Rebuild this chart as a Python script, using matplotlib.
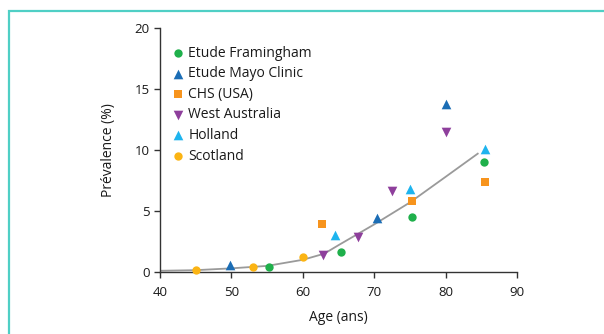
import matplotlib
matplotlib.use("Agg")
import matplotlib.pyplot as plt
from matplotlib.patches import Rectangle

plt.rcParams['font.family'] = ['Open Sans', 'DejaVu Sans']

series_names = ["Etude Framingham", "Etude Mayo Clinic", "CHS (USA)",
                "West Australia", "Holland", "Scotland"]
fram_x = [55.2, 65.4, 75.3, 85.4]
fram_y = [0.4, 1.6, 4.5, 9.0]
mayo_x = [49.8, 70.4, 80.0]
mayo_y = [0.55, 4.4, 13.8]
chs_x = [62.7, 75.3, 85.5]
chs_y = [3.9, 5.8, 7.4]
wa_x = [62.8, 67.7, 72.5, 80.0]
wa_y = [1.4, 2.9, 6.6, 11.5]
hol_x = [64.5, 75.0, 85.5]
hol_y = [3.0, 6.8, 10.1]
sco_x = [45.0, 53.0, 60.0]
sco_y = [0.2, 0.45, 1.25]

curve_x = [40, 45, 50, 55, 60, 63, 65, 70, 75, 80, 84.5]
curve_y = [0.1, 0.15, 0.3, 0.5, 1.0, 1.5, 2.2, 3.9, 5.7, 7.8, 9.7]

x_ticks = [40, 50, 60, 70, 80, 90]
y_ticks = [0, 5, 10, 15, 20]

fig = plt.figure(figsize=(6.04, 3.34), dpi=100)
fig.patch.set_facecolor('white')
# teal frame
fig.patches.append(Rectangle((8.5/604, -0.1), 1.2, 1.1 - 10.5/334,
                             transform=fig.transFigure, fill=False,
                             edgecolor='#4fcfc5', linewidth=1.6))

ax = fig.add_axes([160/604, 1 - 272/334, (517-160)/604, (272-28)/334])
ax.plot(curve_x, curve_y, color='#9a9a9a', lw=1.3, zorder=1)

styles = [
    (fram_x, fram_y, 'o', '#1fb04b', 36),
    (mayo_x, mayo_y, '^', '#1b6db5', 48),
    (chs_x, chs_y, 's', '#f7941d', 38),
    (wa_x, wa_y, 'v', '#8e3f9c', 48),
    (hol_x, hol_y, '^', '#1eb4ee', 48),
    (sco_x, sco_y, 'o', '#fbb414', 36),
]
for name, (xs, ys, m, c, s) in zip(series_names, styles):
    ax.scatter(xs, ys, marker=m, color=c, s=s, label=name, zorder=3,
               linewidths=0, clip_on=False)

ax.set_xlim(40, 90)
ax.set_ylim(0, 20)
ax.set_xticks(x_ticks)
ax.set_yticks(y_ticks)
for sp in ['top', 'right']:
    ax.spines[sp].set_visible(False)
for sp in ['left', 'bottom']:
    ax.spines[sp].set_color('#333333')
    ax.spines[sp].set_linewidth(1.0)
ax.tick_params(direction='out', length=4, width=1.0, colors='#333333',
               labelsize=9.5, labelcolor='#1a1a1a')
ax.tick_params(axis='x', pad=6)
ax.set_xlabel('Age (ans)', fontsize=10, color='#1a1a1a', labelpad=8)
ax.set_ylabel('Prévalence (%)', fontsize=10, color='#1a1a1a', labelpad=13)

leg = ax.legend(loc='upper left', bbox_to_anchor=(0.015, 0.95), frameon=False,
                handletextpad=0.25, labelspacing=0.4,
                handlelength=1.0, borderaxespad=0,
                prop={'size': 10})
for t in leg.get_texts():
    t.set_color('#1a1a1a')

fig.savefig('out.png', dpi=100)
